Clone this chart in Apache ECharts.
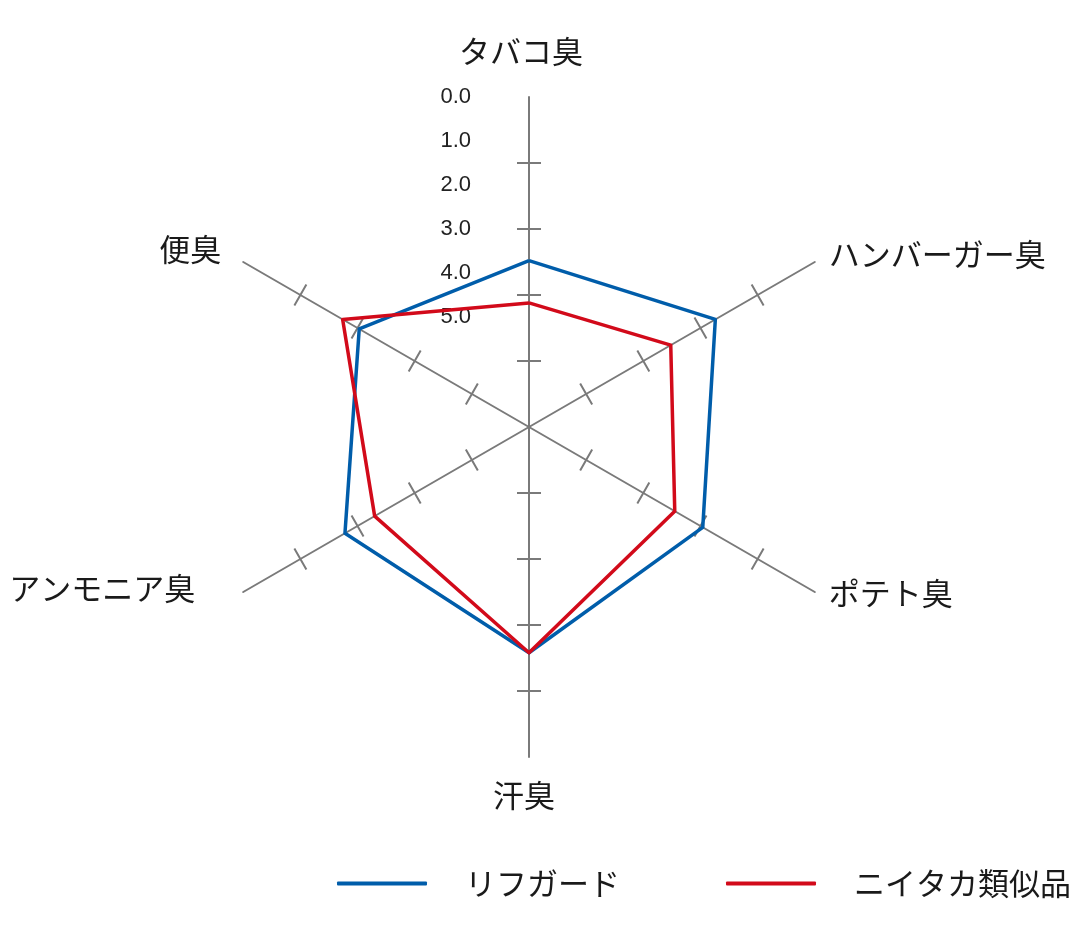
<!DOCTYPE html>
<html>
<head>
<meta charset="utf-8">
<script src="https://cdn.jsdelivr.net/npm/echarts@6/dist/echarts.min.js"></script>
<style>
html,body{margin:0;padding:0;background:#fff;}
#chart{width:1072px;height:936px;}
</style>
</head>
<body>
<div id="chart"></div>
<script>
// Categories in clockwise order starting from the top
const categories = ['タバコ臭', 'ハンバーガー臭', 'ポテト臭', '汗臭', 'アンモニア臭', '便臭'];
const seriesNames = ['リフガード', 'ニイタカ類似品'];
const rifguard = [2.52, 3.26, 3.04, 3.42, 3.22, 2.97];
const niitaka = [1.88, 2.48, 2.55, 3.42, 2.70, 3.26];
const tickLabels = ['0.0', '1.0', '2.0', '3.0', '4.0', '5.0'];
const axisMax = 5;

// ECharts radar runs counter-clockwise; reorder so the picture reads clockwise
const order = [0, 5, 4, 3, 2, 1];
const reorder = arr => order.map(i => arr[i]);

const FONT_JP = '"Noto Sans CJK JP", "Noto Sans", sans-serif';
const GRAY = '#7a7a7a';
const BLUE = '#005DAA';
const RED = '#D20A1A';

const namePads = [
  [0, 16, 14, 0],
  [0, 0, 0, 0],
  [0, 0, 14, 0],
  [7, 10, 0, 0],
  [0, 34, 24, 0],
  [0, 8, 10, 0]
];
const rich = {};
namePads.forEach((p, i) => {
  rich['n' + i] = { fontSize: 31, fontFamily: FONT_JP, color: '#1a1a1a', padding: p };
});

const indicators = reorder(categories).map(n => ({ name: n, min: 0, max: axisMax }));

const chart = echarts.init(document.getElementById('chart'), null, { renderer: 'canvas' });
chart.setOption({
  backgroundColor: '#ffffff',
  animation: false,
  color: [BLUE, RED],
  radar: [
    {
      center: [529, 427],
      radius: 330,
      startAngle: 90,
      splitNumber: 5,
      indicator: indicators,
      nameGap: 16,
      axisName: {
        fontSize: 31,
        fontFamily: FONT_JP,
        color: '#1a1a1a',
        formatter: name => '{n' + categories.indexOf(name) + '|' + name + '}',
        rich: rich
      },
      axisLine: { show: true, lineStyle: { color: GRAY, width: 2 } },
      axisTick: { show: true, length: 12, customValues: [1, 2, 3, 4], lineStyle: { color: GRAY, width: 2 } },
      axisLabel: { show: false },
      splitLine: { show: false },
      splitArea: { show: false }
    },
    {
      center: [529, 427],
      radius: 330,
      startAngle: 90,
      splitNumber: 5,
      indicator: indicators,
      axisName: { show: false },
      axisLine: { show: false },
      axisTick: { show: true, length: -12, customValues: [1, 2, 3, 4], lineStyle: { color: GRAY, width: 2 } },
      axisLabel: { show: false },
      splitLine: { show: false },
      splitArea: { show: false }
    }
  ],
  grid: { left: 479, top: 97, width: 10, height: 220, show: false },
  xAxis: { type: 'value', show: false, min: 0, max: 1 },
  yAxis: {
    type: 'category',
    data: tickLabels,
    inverse: true,
    boundaryGap: false,
    axisLine: { show: false },
    axisTick: { show: false },
    splitLine: { show: false },
    axisLabel: {
      show: true,
      interval: 0,
      margin: 8,
      fontSize: 22,
      fontFamily: '"Liberation Sans", Arial, sans-serif',
      color: '#222'
    }
  },
  legend: {
    data: seriesNames,
    left: 337,
    top: 868,
    width: 760,
    padding: 0,
    icon: 'roundRect',
    itemWidth: 90,
    itemHeight: 4,
    itemGap: 106,
    textStyle: { fontSize: 31, fontFamily: FONT_JP, color: '#1a1a1a', padding: [0, 0, 0, 33] }
  },
  series: [
    {
      type: 'radar',
      radarIndex: 0,
      symbol: 'none',
      data: [
        { name: seriesNames[0], value: reorder(rifguard), lineStyle: { color: BLUE, width: 3.5 }, itemStyle: { color: BLUE } },
        { name: seriesNames[1], value: reorder(niitaka), lineStyle: { color: RED, width: 3.5 }, itemStyle: { color: RED } }
      ]
    }
  ]
});
</script>
</body>
</html>
